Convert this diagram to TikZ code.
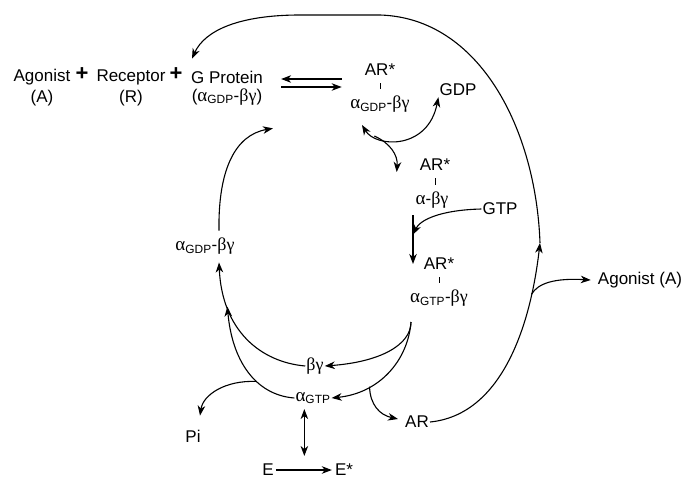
\documentclass[tikz,border=0pt]{standalone}
\usepackage{amsmath}
\usepackage{fontspec}
\setmainfont{Liberation Sans}
\newfontfamily\grk{Liberation Serif}
\usepackage{tikz}
\usetikzlibrary{positioning,arrows.meta,calc}
\tikzstyle{lbl} = [inner sep=1pt, font=\fontsize{17}{19}\selectfont]
\tikzstyle{plus} = [inner sep=1pt, font=\fontsize{22}{24}\selectfont\bfseries]
\tikzstyle{line} = [draw, line width=1.1pt, ->]
\tikzstyle{dline} = [draw, line width=1.1pt, <->]
\tikzstyle{bond} = [draw, line width=0.6pt, shorten >=6pt, shorten <=6pt]
\newcommand{\alp}{{\grk\fontsize{19}{19}\selectfont α}}
\newcommand{\aGdp}{\alp\textsubscript{GDP}}
\newcommand{\aGtp}{\alp\textsubscript{GTP}}
\newcommand{\bgam}{{\grk\fontsize{18}{19}\selectfont βγ}}

\begin{document}
\begin{tikzpicture}[x=1pt, y=-1pt, >={Stealth[length=10pt,width=7.5pt,inset=3pt]}]
   \useasboundingbox (0,0) rectangle (685,479);

   % Reactants %%%%%%%%%%%%%%%%%%%%%%%%%%%%%%%%%%%%%%%%%%%%%%%%%%%%%%
   \node[lbl] (Agonist) at (42,77) {Agonist};
   \node[lbl, below=3pt of Agonist] (AgonistA) {(A)};
   \node[plus] (PlusA) at (82,74) {+};
   \node[lbl] (Receptor) at (131,77) {Receptor};
   \node[lbl, below=3pt of Receptor] (ReceptorR) {(R)};
   \node[plus] (PlusB) at (176,74) {+};
   \node[lbl] (GProtein) at (227,77) {G Protein};
   \node[lbl, below=3pt of GProtein] (GPsub) {(\aGdp-\bgam)};

   % Receptor complexes %%%%%%%%%%%%%%%%%%%%%%%%%%%%%%%%%%%%%%%%%%%%%%
   \node[lbl] (ARsA) at (380,70) {AR*};
   \node[lbl] (ARgA) at (380,104) {\aGdp-\bgam};
   \node[lbl] (GDP) at (458,90) {GDP};
   \node[lbl] (ARsB) at (435,165) {AR*};
   \node[lbl] (ARgB) at (432,200) {\alp-\bgam};
   \node[lbl] (GTP) at (500,209) {GTP};
   \node[lbl] (ARsC) at (439,264) {AR*};
   \node[lbl] (ARgC) at (439,298) {\aGtp-\bgam};
   \node[lbl] (AgonistOut) at (640,280) {Agonist (A)};

   % Subunits %%%%%%%%%%%%%%%%%%%%%%%%%%%%%%%%%%%%%%%%%%%%%%%%%%%%%%%%
   \node[lbl] (aGdpBg) at (205,246) {\aGdp-\bgam};
   \node[lbl] (Bg) at (315,366) {\bgam};
   \node[lbl] (aGtp) at (313,398) {\aGtp};
   \node[lbl] (Pi) at (193,436) {Pi};
   \node[lbl] (AR) at (417,422) {AR};
   \node[lbl, inner sep=0pt] (E) at (268,470) {E};
   \node[lbl, inner sep=0pt] (Estar) at (344,470) {E*};

   \coordinate (GdpOut) at ([xshift=-18pt,yshift=-21pt]ARgA.center);
   \coordinate (Gin) at ([xshift=-19pt,yshift=-15pt]ARgB.center);
   \coordinate (Split) at ([xshift=-28pt,yshift=-24pt]ARgC.center);
   \coordinate (Up) at (540,243);

   % Draw edges
   \path [line] ([xshift=-22pt,yshift=-9pt]ARsA.west) -- ([xshift=17pt,yshift=-2pt]GProtein.east);
   \path [line] ([xshift=17pt,yshift=-10pt]GProtein.east) -- ([xshift=-22pt,yshift=-17pt]ARsA.west);
   \path [bond] (ARsA.south) -- (ARsA.south |- ARgA.north);
   \path [bond] (ARsB.south) -- (ARsB.south |- ARgB.north);
   \path [bond] (ARsC.south) -- (ARsC.south |- ARgC.north);

   % GDP out, GTP in
   \path [dline] (GdpOut) .. controls (376,148) and (428,150) .. coordinate[pos=0.2] (GdpFork) (GDP.south west);
   \path [line] (GdpFork) .. controls (390,143) and (398,155) .. ([xshift=-22pt,yshift=-7pt]ARsB.west);
   \path [line] (Gin) -- coordinate[pos=0.4] (GtpIn) (Gin |- ARsC);
   \path [line] (GTP.west) .. controls (440,210) and (420,220) .. (GtpIn);

   % Dissociation
   \path [line] (Split) .. controls (411,345) and (380,362) .. (Bg.east);
   \path [line] (Split) .. controls (408,360) and (380,393) .. coordinate[pos=0.7] (ArFork) (aGtp.east);
   \path [line] (ArFork) .. controls (370,405) and (380,415) .. ([xshift=-6pt,yshift=3pt]AR.west);

   % Reassociation
   \path [line] (Bg.west) .. controls (260,362) and (222,330) .. coordinate[pos=0.75] (Join) ([xshift=14pt,yshift=-7pt]aGdpBg.south);
   \path [line] (aGtp.west) .. controls (255,395) and (232,360) .. coordinate[pos=0.38] (PiFork) (Join);
   \path [line] (PiFork) .. controls (225,380) and (203,395) .. ([xshift=7pt,yshift=13pt]Pi.north);
   \path [line] ([xshift=14pt,yshift=6pt]aGdpBg.north) .. controls (218,170) and (235,135) .. ([xshift=46pt,yshift=-22pt]GPsub.south);

   % Effector
   \path [line, shorten >=3pt, shorten <=2pt] (E) -- coordinate[pos=0.5] (Emid) (Estar);
   \path [dline, shorten <=4pt, shorten >=14pt] (aGtp.south -| Emid) -- (Emid);

   % Receptor recycling
   \path [line] (AR.east) .. controls (500,415) and (530,330) .. coordinate[pos=0.8] (AgFork) (Up);
   \path [line] (AgFork) .. controls (538,283) and (555,278) .. ([xshift=-6pt]AgonistOut.west);
   \path [line] (Up) .. controls (536,130) and (480,18) .. (380,15) -- (300,15) .. controls (240,15) and (205,30) .. ([xshift=-35pt,yshift=11pt]GProtein.north);

\end{tikzpicture}
\end{document}
